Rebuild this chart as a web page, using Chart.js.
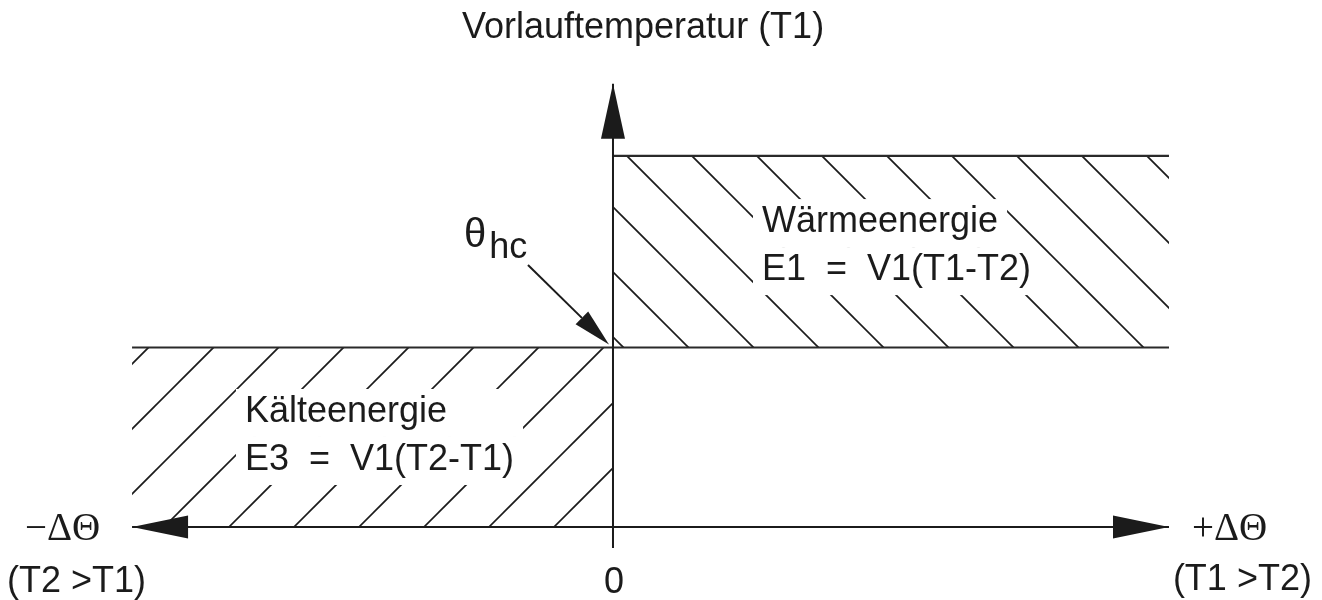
<!DOCTYPE html>
<html><head><meta charset="utf-8">
<script src="https://cdn.jsdelivr.net/npm/chart.js@4.4.1/dist/chart.umd.min.js"></script>
<style>html,body{margin:0;padding:0;background:#fff;}canvas{display:block;}</style>
</head><body>
<canvas id="c" width="1322" height="600"></canvas>
<script>
// ---- diagram data (x: ΔΘ, y: Vorlauftemperatur T1, schematic units) ----
const deltaThetaAxis = [-8.65, 10];      // x-axis: −ΔΘ arrow tip .. +ΔΘ arrow tip
const t1Axis = [-1.17, 24.7];            // vertical axis: below origin .. arrow tip
const thetaHc = 10;                      // switch-over temperature θhc
const heatRegionDeltaTheta = [0, 10];    // Wärmeenergie band (ΔΘ > 0)
const heatRegionT1 = [10, 20.67];        // band lower / upper bound
const coldRegionDeltaTheta = [-8.65, 0]; // Kälteenergie band (ΔΘ < 0)
const coldRegionT1 = [0, 10];
const tickValues = [0];
const tickLabels = ['0'];
const axisEndLabels = ['\u2212\u0394\u0398', '+\u0394\u0398'];
const axisEndConditions = ['(T2 >T1)', '(T1 >T2)'];
const yAxisTitle = 'Vorlauftemperatur (T1)';
const heatLabel = ['Wärmeenergie', 'E1  =  V1(T1-T2)'];
const coldLabel = ['Kälteenergie', 'E3  =  V1(T2-T1)'];
const switchLabel = ['\u03B8', 'hc'];

const INK = '#1b1b1b';
const SANS = '"Liberation Sans", Arial, sans-serif';
const SERIF = '"Liberation Serif", "Times New Roman", serif';

function hatch(dir, phase) {
  const s = 65, t = document.createElement('canvas');
  t.width = s; t.height = s;
  const g = t.getContext('2d');
  g.strokeStyle = INK; g.lineWidth = 1.7;
  for (const k of [-1, 0, 1]) {
    const c = phase + k * s;
    g.beginPath();
    if (dir === 'down') { g.moveTo(c - 10, -10); g.lineTo(c + 75, 75); }
    else { g.moveTo(c + 10, -10); g.lineTo(c - 75, 75); }
    g.stroke();
  }
  return document.getElementById('c').getContext('2d').createPattern(t, 'repeat');
}
const hatchDown = hatch('down', 16);
const hatchUp = hatch('up', 41);

const pts = (xs, yv) => xs.map(v => ({x: v, y: yv}));

const decor = {
  id: 'decor',
  afterDatasetsDraw(chart, args, o) {
    const {ctx, scales: {x, y}} = chart;
    const px = v => x.getPixelForValue(v), py = v => y.getPixelForValue(v);
    ctx.save();
    ctx.fillStyle = INK; ctx.strokeStyle = INK;
    const tri = p => { ctx.beginPath(); ctx.moveTo(p[0][0], p[0][1]); ctx.lineTo(p[1][0], p[1][1]); ctx.lineTo(p[2][0], p[2][1]); ctx.closePath(); ctx.fill(); };
    // axis arrowheads
    const ay = py(0), lx = px(deltaThetaAxis[0]), rx = px(deltaThetaAxis[1]);
    tri([[lx, ay], [lx + 56, ay - 11.5], [lx + 56, ay + 11.5]]);
    tri([[rx, ay], [rx - 56, ay - 11.5], [rx - 56, ay + 11.5]]);
    const ax = px(0), ty = py(t1Axis[1]);
    tri([[ax, ty], [ax - 12, ty + 55], [ax + 12, ty + 55]]);

    const text = (s, xv, yv, font, opts = {}) => {
      ctx.font = font;
      ctx.textBaseline = 'alphabetic';
      ctx.textAlign = opts.align || 'left';
      const X = px(xv) + (opts.dx || 0), Y = py(yv) + (opts.dy || 0);
      const w = ctx.measureText(s).width;
      if (opts.box) {
        ctx.fillStyle = '#fff';
        ctx.fillRect(X - 9, Y - 33, (opts.boxW || w) + 18, 48);
      }
      ctx.fillStyle = INK;
      ctx.fillText(s, X, Y);
      return w;
    };
    const f36 = '36px ' + SANS;
    // title of vertical axis
    text(yAxisTitle, o.title.x, o.title.y, f36);
    // region labels with white backing
    text(heatLabel[0], o.heat.x, o.heat.y, f36, {box: true});
    text(heatLabel[1], o.heat.x, o.heat.y, f36, {box: true, dy: 48});
    ctx.font = f36;
    const cw = Math.max(...coldLabel.map(s => ctx.measureText(s).width));
    text(coldLabel[0], o.cold.x, o.cold.y, f36, {box: true, boxW: cw});
    text(coldLabel[1], o.cold.x, o.cold.y, f36, {box: true, dy: 48});
    // θhc label
    const wt = text(switchLabel[0], o.sw.x, o.sw.y, '40px ' + SANS);
    text(switchLabel[1], o.sw.x, o.sw.y, f36, {dx: wt + 3, dy: 11});
    // θhc pointer arrow
    const t0 = [px(o.arrow.from[0]), py(o.arrow.from[1])];
    const t1 = [px(0) - 4, py(thetaHc) - 3];
    const ang = Math.atan2(t1[1] - t0[1], t1[0] - t0[0]);
    const L = 38, H = 9;
    const bx = t1[0] - L * Math.cos(ang), by = t1[1] - L * Math.sin(ang);
    ctx.lineWidth = 2;
    ctx.beginPath(); ctx.moveTo(t0[0], t0[1]); ctx.lineTo(bx, by); ctx.stroke();
    tri([t1, [bx + H * Math.sin(ang), by - H * Math.cos(ang)], [bx - H * Math.sin(ang), by + H * Math.cos(ang)]]);
    // axis end labels
    const fs = '39px ' + SERIF;
    text(axisEndLabels[0], o.endL.x, o.endL.y, fs);
    text(axisEndLabels[1], o.endR.x, o.endR.y, fs);
    text(axisEndConditions[0], o.condL.x, o.condL.y, f36);
    text(axisEndConditions[1], o.condR.x, o.condR.y, f36);
    // tick labels
    tickValues.forEach((v, i) => text(tickLabels[i], v, o.tickY, f36, {align: 'center', dx: 1}));
    ctx.restore();
  }
};

new Chart(document.getElementById('c'), {
  type: 'scatter',
  data: {
    datasets: [
      {label: 'x-Achse', data: pts(deltaThetaAxis, 0), borderColor: INK, borderWidth: 2},
      {label: 'T1-Achse', data: t1Axis.map(v => ({x: 0, y: v})), borderColor: INK, borderWidth: 2},
      {label: 'Wärme oben', data: pts(heatRegionDeltaTheta, heatRegionT1[1]), borderColor: '#2a2a2a', borderWidth: 2.2},
      {label: 'Wärmeenergie', data: pts(heatRegionDeltaTheta, heatRegionT1[0]), borderColor: '#2a2a2a', borderWidth: 2.2,
       fill: {value: heatRegionT1[1]}, backgroundColor: hatchDown},
      {label: 'Kälteenergie', data: pts(coldRegionDeltaTheta, coldRegionT1[1]), borderColor: '#2a2a2a', borderWidth: 2.2,
       fill: {value: coldRegionT1[0]}, backgroundColor: hatchUp}
    ].map(d => Object.assign({showLine: true, pointRadius: 0, pointHoverRadius: 0, tension: 0, borderCapStyle: 'butt', fill: false}, d))
  },
  options: {
    responsive: false,
    animation: false,
    events: [],
    layout: {padding: 0},
    scales: {
      x: {type: 'linear', display: false, min: -11.025, max: 12.752},
      y: {type: 'linear', display: false, min: -4.067, max: 29.359}
    },
    plugins: {
      legend: {display: false},
      tooltip: {enabled: false},
      decor: {
        title: {x: -2.716, y: 27.24},
        heat: {x: 2.68, y: 16.43},
        cold: {x: -6.619, y: 5.85},
        sw: {x: -2.68, y: 15.6},
        arrow: {from: [-1.529, 14.6]},
        endL: {x: -10.576, y: -0.724},
        endR: {x: 10.414, y: -0.724},
        condL: {x: -10.9, y: -3.62},
        condR: {x: 10.07, y: -3.51},
        tickY: -3.68
      }
    }
  },
  plugins: [decor]
});
</script>
</body></html>
